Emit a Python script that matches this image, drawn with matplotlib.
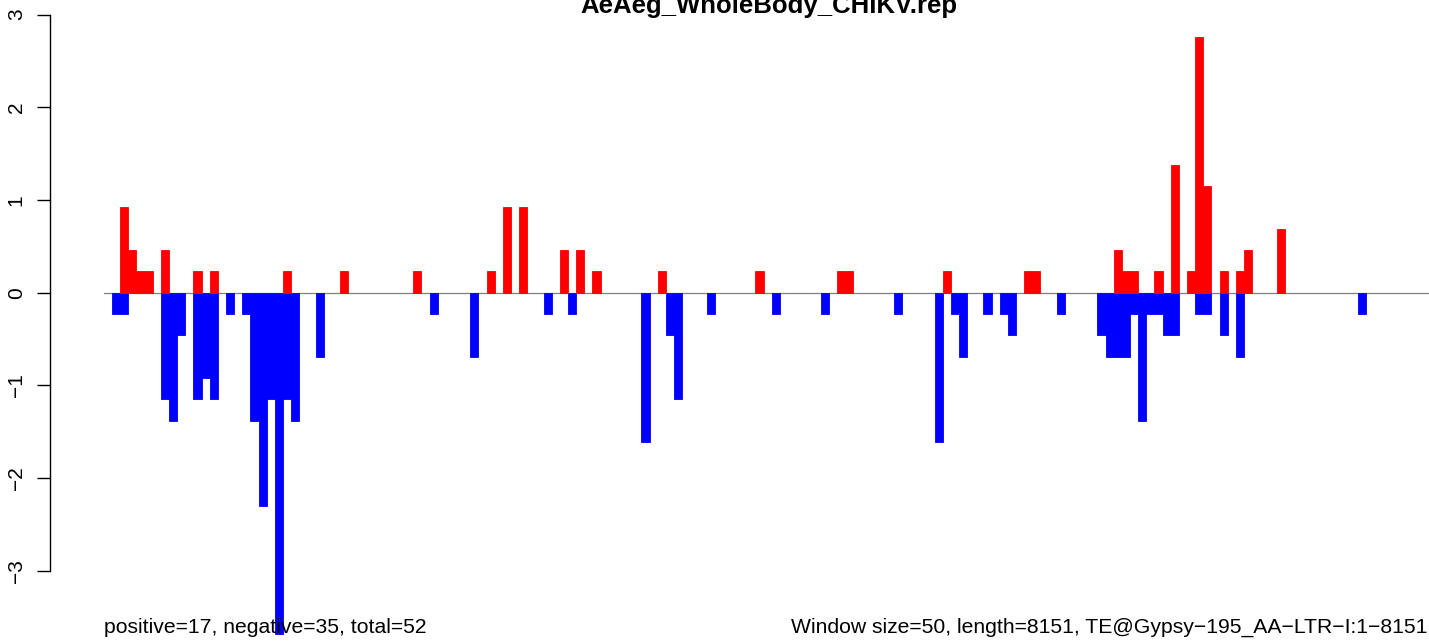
import matplotlib
matplotlib.use("Agg")
import matplotlib.pyplot as plt

# window index (50 bp windows) -> signal
pos_idx = [1, 2, 3, 4, 6, 10, 12, 21, 28, 37, 46, 48, 50, 55, 57, 59, 67, 79,
           89, 90, 102, 112, 113, 123, 124, 125, 128, 130, 132, 133, 134, 136,
           138, 139, 143]
pos_val = [0.92, 0.46, 0.23, 0.23, 0.46, 0.23, 0.23, 0.23, 0.23, 0.23, 0.23,
           0.92, 0.92, 0.46, 0.46, 0.23, 0.23, 0.23, 0.23, 0.23, 0.23, 0.23,
           0.23, 0.46, 0.23, 0.23, 0.23, 1.38, 0.23, 2.76, 1.15, 0.23, 0.23,
           0.46, 0.69]

neg_idx = [0, 1, 6, 7, 8, 10, 11, 12, 14, 16, 17, 18, 19, 20, 21, 22, 25, 39,
           44, 53, 56, 65, 68, 69, 73, 81, 87, 96, 101, 103, 104, 107, 109, 110,
           116, 121, 122, 123, 124, 125, 126, 127, 128, 129, 130, 133, 134, 136,
           138, 153]
neg_val = [-0.23, -0.23, -1.15, -1.38, -0.46, -1.15, -0.92, -1.15, -0.23, -0.23,
           -1.38, -2.30, -1.15, -3.68, -1.15, -1.38, -0.69, -0.23, -0.69, -0.23,
           -0.23, -1.61, -0.46, -1.15, -0.23, -0.23, -0.23, -0.23, -1.61, -0.23,
           -0.69, -0.23, -0.23, -0.46, -0.23, -0.46, -0.69, -0.69, -0.69, -0.23,
           -1.38, -0.23, -0.23, -0.46, -0.46, -0.23, -0.23, -0.46, -0.69, -0.23]

yticks = [-3, -2, -1, 0, 1, 2, 3]
title = "AeAeg_WholeBody_CHIKV.rep"
left_note = "positive=17, negative=35, total=52"
right_note = "Window size=50, length=8151, TE@Gypsy\u2212195_AA\u2212LTR\u2212I:1\u22128151"

plt.rcParams['font.family'] = ['Liberation Sans', 'DejaVu Sans']

W, H = 1429, 641
fig = plt.figure(figsize=(W / 100, H / 100), dpi=100)
ax = fig.add_axes([50 / W, 0, 1 - 50 / W, 1])

# pixel layout of the original: bar i starts at 112 + i*8.144 px, 0 at 292.7 px, 92.7 px per unit
ax.set_xlim((50 - 112) / 8.144, (W - 112) / 8.144)
ax.set_ylim(-(H - 292.7) / 92.7, 292.7 / 92.7)

ax.axhline(0, xmin=(104 - 50) / (W - 50), xmax=1, color='#808080', lw=0.9, zorder=1)
ax.bar(neg_idx, neg_val, width=1, align='edge', color='#0000ff',
       edgecolor='#0000ff', linewidth=0.6, zorder=2)
ax.bar(pos_idx, pos_val, width=1, align='edge', color='#ff0000',
       edgecolor='#ff0000', linewidth=0.6, zorder=2)

for s in ['top', 'right', 'bottom']:
    ax.spines[s].set_visible(False)
ax.spines['left'].set_bounds(-3, 3)
ax.spines['left'].set_linewidth(1.0)
ax.set_xticks([])
ax.set_yticks(yticks)
ax.set_yticklabels([str(t).replace('-', '\u2212') for t in yticks])
ax.tick_params(axis='y', length=9.4, width=1.0, labelsize=15, pad=8)
for lab in ax.get_yticklabels():
    lab.set_rotation(90)
    lab.set_va('center')
ax.patch.set_visible(False)

# title sits partly above the top edge, as in the original
fig.text(768.5 / W, 1 - 12.5 / H, title, ha='center', va='baseline',
         fontsize=18.5, fontweight='bold')
fig.text(104 / W, 1 - 633 / H, left_note, ha='left', va='baseline', fontsize=15.2)
fig.text(1427 / W, 1 - 633 / H, right_note, ha='right', va='baseline', fontsize=15.2)

fig.savefig('out.png', dpi=100)
